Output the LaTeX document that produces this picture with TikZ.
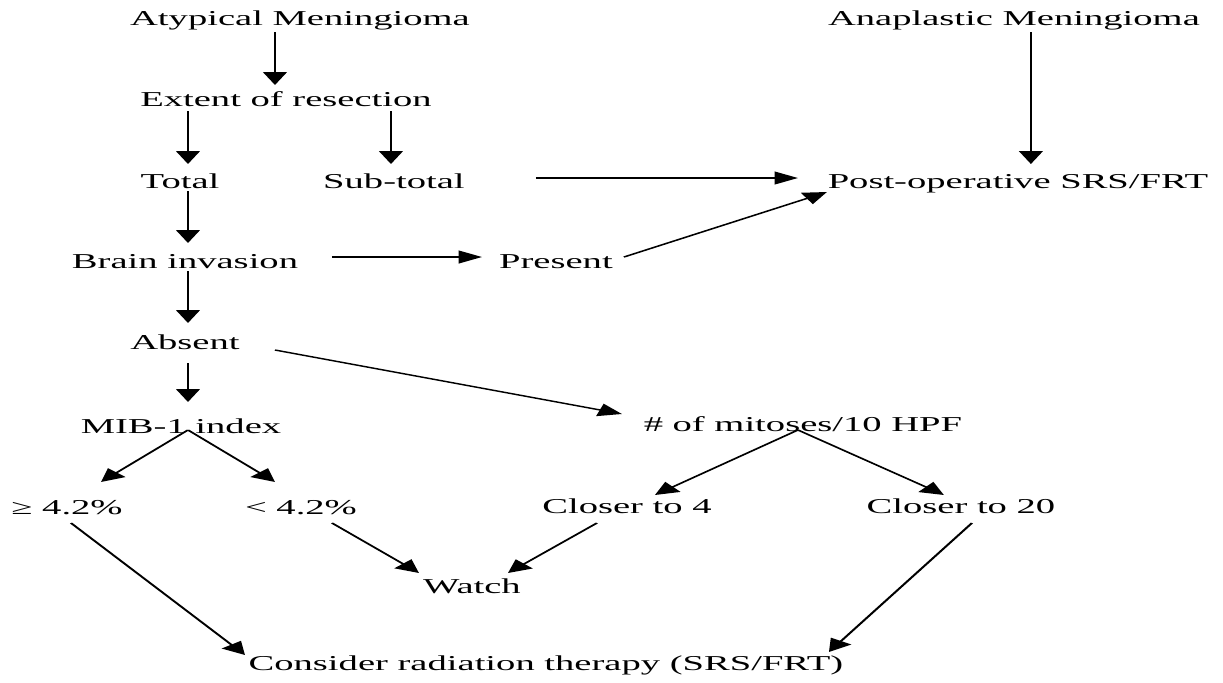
\documentclass[tikz,border=0pt]{standalone}
\usepackage{fontspec}
\setmainfont{Liberation Serif}
\usetikzlibrary{arrows.meta,%
		calc,%
		positioning}

\begin{document}
\begin{tikzpicture}[x=0.5pt,y=-0.5pt,
    txt/.style={font=\fontsize{10.6}{12}\selectfont,inner sep=0pt,anchor=base},
    arr/.style={line width=0.7pt,-{Triangle[length=6.4pt,width=6.4pt]}}]

  \useasboundingbox (0,0) rectangle (1223,682);%the whole page
  \begin{scope}[transform canvas={xscale=1.82},x=0.2747pt,y=-0.5pt]%the figure is stretched sideways
  \node[txt] (atyp)  at (300,25)  {Atypical Meningioma};%left tree
  \node[txt] (ana)   at (1014,25) {Anaplastic Meningioma};%right tree
  \node[txt] (ext)   at (286,106) {Extent of resection};
  \node[txt] (tot)   at (180,188) {Total};
  \node[txt] (sub)   at (394,188) {Sub-total};
  \node[txt] (post)  at (1018,188) {Post-operative SRS/FRT};
  \node[txt] (brain) at (185,268) {Brain invasion};
  \node[txt] (pres)  at (556,268) {Present};
  \node[txt] (abs)   at (185,349) {Absent};
  \node[txt] (mib)   at (181,433) {MIB-1 index};
  \node[txt] (mit)   at (803,431) {\# of mitoses/10 HPF};
  \node[txt] (ge)    at (67,514)  {≥ 4.2\%};
  \node[txt] (lt)    at (301,514) {< 4.2\%};
  \node[txt] (c4)    at (627,513) {Closer to 4};
  \node[txt] (c20)   at (961,513) {Closer to 20};
  \node[txt] (watch) at (472,593) {Watch};
  \node[txt] (cons)  at (546,670) {Consider radiation therapy (SRS/FRT)};
  \draw[arr] ($(atyp.base)+(-25,7)$) -- ($(ext.base)+(-11,-21)$);%down the left column
  \draw[arr] ($(ext.base)+(-98,5)$) -- ($(tot.base)+(8,-24)$);
  \draw[arr] ($(ext.base)+(105,5)$) -- ($(sub.base)+(-3,-24)$);
  \draw[arr] ($(tot.base)+(8,3)$) -- ($(brain.base)+(3,-25)$);
  \draw[arr] ($(brain.base)+(3,3)$) -- ($(abs.base)+(3,-26)$);
  \draw[arr] ($(abs.base)+(3,14)$) -- ($(mib.base)+(7,-31)$);
  \draw[arr] ($(sub.base)+(142,-10)$) -- ($(post.base)+(-220,-10)$);%into SRS/FRT
  \draw[arr] ($(ana.base)+(17,7)$) -- ($(post.base)+(13,-24)$);
  \draw[arr] ($(brain.base)+(147,-11)$) -- ($(pres.base)+(-74,-11)$);
  \draw[arr] ($(pres.base)+(68,-11)$) -- ($(post.base)+(-191,4)$);
  \draw[arr] ($(abs.base)+(90,1)$) -- ($(mit.base)+(-181,-17)$);%to the mitoses count
  \draw[arr] ($(mib.base)+(7,-3)$) -- ($(ge.base)+(34,-32)$);%split on MIB-1
  \draw[arr] ($(mib.base)+(7,-3)$) -- ($(lt.base)+(-26,-32)$);
  \draw[arr] ($(mit.base)+(-5,-1)$) -- ($(c4.base)+(28,-18)$);%split on mitoses
  \draw[arr] ($(mit.base)+(-5,-1)$) -- ($(c20.base)+(-17,-18)$);
  \draw[arr] ($(ge.base)+(4,9)$) -- ($(cons.base)+(-301,-15)$);%the outcomes
  \draw[arr] ($(lt.base)+(31,9)$) -- ($(watch.base)+(-53,-20)$);
  \draw[arr] ($(c4.base)+(-30,10)$) -- ($(watch.base)+(36,-20)$);
  \draw[arr] ($(c20.base)+(11,10)$) -- ($(cons.base)+(283,-18)$);
  \end{scope}
\end{tikzpicture}
\end{document}
